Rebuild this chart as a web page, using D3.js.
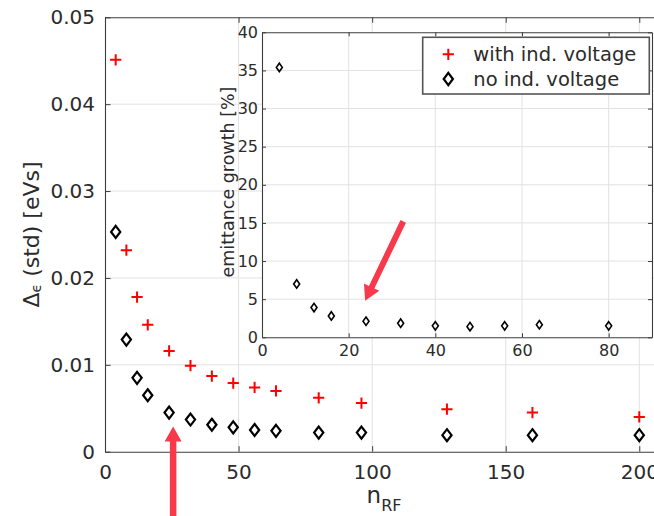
<!DOCTYPE html>
<html><head><meta charset="utf-8">
<script src="https://cdn.jsdelivr.net/npm/d3@7/dist/d3.min.js"></script>
<style>
html,body{margin:0;padding:0;background:#fff;}
svg{display:block;font-family:"DejaVu Sans",sans-serif;}
</style></head>
<body>
<svg id="chart" width="654" height="516"></svg>
<script>
// ---- data ----
const nRF = [4, 8, 12, 16, 24, 32, 40, 48, 56, 64, 80, 96, 128, 160, 200];
const withIndVoltage = [0.0451, 0.0232, 0.0178, 0.0146, 0.0116, 0.0099, 0.0087, 0.0079, 0.0074, 0.0070, 0.0062, 0.0056, 0.0049, 0.0045, 0.0040];
const noIndVoltage = [0.0253, 0.0129, 0.0085, 0.0065, 0.0045, 0.0037, 0.0031, 0.0028, 0.0025, 0.0024, 0.0022, 0.0022, 0.0019, 0.0019, 0.0019];
const nRFInset = [4, 8, 12, 16, 24, 32, 40, 48, 56, 64, 80];
const emittanceGrowth = [35.4, 7.0, 3.9, 2.8, 2.1, 1.85, 1.5, 1.4, 1.5, 1.65, 1.5];
const mainXTicks = [0, 50, 100, 150, 200];
const mainYTicks = [0, 0.01, 0.02, 0.03, 0.04, 0.05];
const mainYTickLabels = ["0", "0.01", "0.02", "0.03", "0.04", "0.05"];
const insetXTicks = [0, 20, 40, 60, 80];
const insetYTicks = [0, 5, 10, 15, 20, 25, 30, 35, 40];
const legendLabels = ["with ind. voltage", "no ind. voltage"];
// annotation arrows (data coordinates): [tailX, tailY, tipX, tipY]
const mainArrow = [25.5, -0.0075, 25.5, 0.0029];
const insetArrow = [32.6, 15.2, 23.8, 4.8];

const svg = d3.select("#chart");
const axisCol = "#3c3c3c", textCol = "#2b2b2b", gridCol = "#e2e2e2";
const red = "#ff0000", arrowCol = "#f8384b";

// ---- main axes ----
const x = d3.scaleLinear().domain([0, 210]).range([105, 666]);
const y = d3.scaleLinear().domain([0, 0.05]).range([451.7, 17.3]);
const L = x.range()[0], R = x.range()[1], T = y.range()[1], B = y.range()[0];

const gMain = svg.append("g");
// grid
gMain.selectAll(".gx").data(mainXTicks.filter(d => d > 0)).join("line")
  .attr("x1", d => x(d)).attr("x2", d => x(d)).attr("y1", T).attr("y2", B)
  .attr("stroke", gridCol).attr("stroke-width", 1);
gMain.selectAll(".gy").data(mainYTicks.filter(d => d > 0 && d < 0.05)).join("line")
  .attr("x1", L).attr("x2", R).attr("y1", d => y(d)).attr("y2", d => y(d))
  .attr("stroke", gridCol).attr("stroke-width", 1);

// axes via d3 axis (inward ticks)
const xAxisB = d3.axisBottom(x).tickValues(mainXTicks).tickSizeInner(-5.5).tickSizeOuter(0).tickPadding(13).tickFormat(d3.format("d"));
const xAxisT = d3.axisTop(x).tickValues(mainXTicks).tickSizeInner(-5.5).tickSizeOuter(0).tickFormat("");
const yAxisL = d3.axisLeft(y).tickValues(mainYTicks).tickSizeInner(-5.5).tickSizeOuter(0).tickPadding(10).tickFormat((d, i) => mainYTickLabels[i]);

function styleAxis(g, fs) {
  g.select(".domain").attr("stroke", axisCol).attr("stroke-width", 1.1);
  g.selectAll(".tick line").attr("stroke", axisCol).attr("stroke-width", 1);
  g.selectAll(".tick text").attr("fill", textCol).style("font-size", fs + "px").style("font-family", "DejaVu Sans");
}
gMain.append("g").attr("transform", `translate(0,${B})`).call(xAxisB).call(g => styleAxis(g, 20));
gMain.append("g").attr("transform", `translate(0,${T})`).call(xAxisT).call(g => styleAxis(g, 20));
gMain.append("g").attr("transform", `translate(${L},0)`).call(yAxisL).call(g => styleAxis(g, 20));

// axis labels
const yl = gMain.append("text").attr("transform", `translate(39,${(T + B) / 2}) rotate(-90)`)
  .attr("text-anchor", "middle").attr("fill", textCol).style("font-size", "22px");
yl.append("tspan").text("Δ");
yl.append("tspan").text("ϵ").style("font-size", "14px").attr("dy", 2);
yl.append("tspan").text(" (std) [eVs]").attr("dy", -2);

const xl = gMain.append("text").attr("x", 384).attr("y", 503)
  .attr("text-anchor", "middle").attr("fill", textCol).style("font-size", "23px");
xl.append("tspan").text("n");
xl.append("tspan").text("RF").style("font-size", "16px").attr("dy", 8);

// markers
function plusPath(s) { return `M${-s},0H${s}M0,${-s}V${s}`; }
function diamondPath(w, h) { return `M0,${-h}L${w},0L0,${h}L${-w},0Z`; }

gMain.selectAll(".pw").data(nRF).join("path")
  .attr("transform", (d, i) => `translate(${x(d)},${y(withIndVoltage[i])})`)
  .attr("d", plusPath(5.6)).attr("stroke", red).attr("stroke-width", 2).attr("fill", "none");
gMain.selectAll(".dn").data(nRF).join("path")
  .attr("transform", (d, i) => `translate(${x(d)},${y(noIndVoltage[i])})`)
  .attr("d", diamondPath(4.6, 6)).attr("stroke", "#000").attr("stroke-width", 2.2).attr("fill", "none");

// ---- inset axes ----
const xi = d3.scaleLinear().domain([0, 90]).range([262, 652]);
const yi = d3.scaleLinear().domain([0, 40]).range([337.3, 32.3]);
const iL = xi.range()[0], iR = xi.range()[1], iT = yi.range()[1], iB = yi.range()[0];
const gIn = svg.append("g");
gIn.append("rect").attr("x", iL).attr("y", iT).attr("width", iR - iL).attr("height", iB - iT).attr("fill", "#fff");
gIn.selectAll(".gx").data(insetXTicks.filter(d => d > 0)).join("line")
  .attr("x1", d => xi(d)).attr("x2", d => xi(d)).attr("y1", iT).attr("y2", iB)
  .attr("stroke", gridCol).attr("stroke-width", 1);
gIn.selectAll(".gy").data(insetYTicks.filter(d => d > 0 && d < 40)).join("line")
  .attr("x1", iL).attr("x2", iR).attr("y1", d => yi(d)).attr("y2", d => yi(d))
  .attr("stroke", gridCol).attr("stroke-width", 1);
gIn.append("g").attr("transform", `translate(0,${iB})`)
  .call(d3.axisBottom(xi).tickValues(insetXTicks).tickSizeInner(-4).tickSizeOuter(0).tickPadding(7).tickFormat(d3.format("d")))
  .call(g => styleAxis(g, 16));
gIn.append("g").attr("transform", `translate(0,${iT})`)
  .call(d3.axisTop(xi).tickValues(insetXTicks).tickSizeInner(-4).tickSizeOuter(0).tickFormat(""))
  .call(g => styleAxis(g, 16));
gIn.append("g").attr("transform", `translate(${iL},0)`)
  .call(d3.axisLeft(yi).tickValues(insetYTicks).tickSizeInner(-4).tickSizeOuter(0).tickPadding(4).tickFormat(d3.format("d")))
  .call(g => styleAxis(g, 16));
gIn.append("g").attr("transform", `translate(${iR},0)`)
  .call(d3.axisRight(yi).tickValues(insetYTicks).tickSizeInner(-4).tickSizeOuter(0).tickFormat(""))
  .call(g => styleAxis(g, 16));
gIn.append("text").attr("transform", `translate(234,182) rotate(-90)`)
  .attr("text-anchor", "middle").attr("fill", textCol).style("font-size", "17.5px")
  .text("emittance growth [%]");
gIn.selectAll(".di").data(nRFInset).join("path")
  .attr("transform", (d, i) => `translate(${xi(d)},${yi(emittanceGrowth[i])})`)
  .attr("d", diamondPath(3, 4.2)).attr("stroke", "#000").attr("stroke-width", 1.6).attr("fill", "none");

// ---- legend ----
const lg = svg.append("g");
lg.append("rect").attr("x", 422.7).attr("y", 37.3).attr("width", 226.6).attr("height", 56.7)
  .attr("fill", "#fff").attr("stroke", "#555").attr("stroke-width", 1.6);
lg.append("path").attr("transform", "translate(448.3,54.3)").attr("d", plusPath(5.6))
  .attr("stroke", red).attr("stroke-width", 2).attr("fill", "none");
lg.append("path").attr("transform", "translate(448.3,79)").attr("d", diamondPath(4.6, 6.2))
  .attr("stroke", "#000").attr("stroke-width", 2.2).attr("fill", "none");
lg.selectAll(".lt").data(legendLabels).join("text")
  .attr("x", 473.3).attr("y", (d, i) => 60.8 + i * 24.7)
  .attr("fill", textCol).style("font-size", "19.5px").text(d => d);

// ---- annotation arrows ----
function arrow(x1, y1, x2, y2, sw, hl, hw) {
  const dx = x2 - x1, dy = y2 - y1, len = Math.hypot(dx, dy);
  const ux = dx / len, uy = dy / len, px = -uy, py = ux;
  const bx = x2 - ux * hl, by = y2 - uy * hl;
  const pts = [
    [x1 + px * sw / 2, y1 + py * sw / 2],
    [bx + px * sw / 2, by + py * sw / 2],
    [bx + px * hw / 2, by + py * hw / 2],
    [x2, y2],
    [bx - px * hw / 2, by - py * hw / 2],
    [bx - px * sw / 2, by - py * sw / 2],
    [x1 - px * sw / 2, y1 - py * sw / 2]
  ];
  return "M" + pts.map(p => p.join(",")).join("L") + "Z";
}
svg.append("path").attr("d", arrow(x(mainArrow[0]), y(mainArrow[1]), x(mainArrow[2]), y(mainArrow[3]), 6.5, 15, 17))
  .attr("fill", arrowCol);
svg.append("path").attr("d", arrow(xi(insetArrow[0]), yi(insetArrow[1]), xi(insetArrow[2]), yi(insetArrow[3]), 6, 15, 17))
  .attr("fill", arrowCol);
</script>
</body></html>
